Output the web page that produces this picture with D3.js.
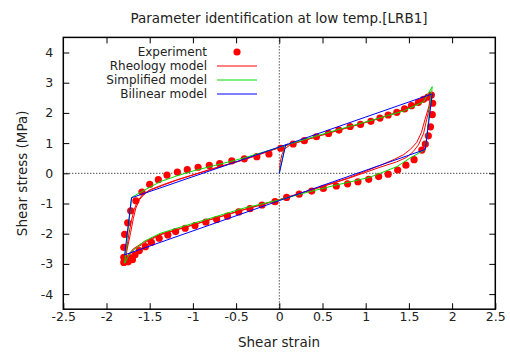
<!DOCTYPE html>
<html>
<head>
<meta charset="utf-8">
<script src="https://cdn.jsdelivr.net/npm/d3@7"></script>
<style>
  body { margin: 0; background: #fff; }
  svg { display: block; font-family: "DejaVu Sans", sans-serif; }
</style>
</head>
<body>
<svg id="chart" width="510" height="353"></svg>
<script>
const xTicks = [-2.5, -2, -1.5, -1, -0.5, 0, 0.5, 1, 1.5, 2, 2.5];
const yTicks = [-4, -3, -2, -1, 0, 1, 2, 3, 4];

// [shear strain, shear stress (MPa)]
const experiment = [
  [0.016,0.83],[0.16,0.97],[0.29,1.08],[0.43,1.21],[0.57,1.32],[0.69,1.43],[0.82,1.55],[0.94,1.62],
  [1.06,1.72],[1.165,1.83],[1.26,1.93],[1.36,2.02],[1.45,2.13],[1.53,2.24],[1.61,2.35],[1.67,2.45],
  [1.72,2.52],[1.76,2.59],
  [1.775,2.32],[1.77,1.94],[1.75,1.54],[1.725,1.24],[1.69,0.97],[1.65,0.77],[1.56,0.45],[1.465,0.27],
  [1.37,0.11],[1.26,-0.03],[1.15,-0.11],[1.035,-0.20],[0.91,-0.28],[0.79,-0.35],[0.66,-0.42],[0.51,-0.50],
  [0.375,-0.59],[0.23,-0.69],[0.085,-0.80],[-0.05,-0.94],[-0.20,-1.05],[-0.34,-1.17],[-0.47,-1.28],
  [-0.60,-1.42],[-0.725,-1.53],[-0.85,-1.62],[-0.976,-1.73],[-1.09,-1.82],[-1.20,-1.93],[-1.29,-2.04],
  [-1.39,-2.15],[-1.48,-2.29],[-1.55,-2.43],[-1.62,-2.56],[-1.67,-2.70],[-1.72,-2.80],[-1.77,-2.88],
  [-1.75,-2.93],[-1.70,-2.86],[-1.80,-2.95],
  [-1.80,-2.78],[-1.80,-2.45],[-1.79,-2.02],[-1.755,-1.64],[-1.72,-1.24],[-1.66,-0.91],[-1.59,-0.62],
  [-1.50,-0.37],[-1.40,-0.21],[-1.30,-0.06],[-1.18,0.04],[-1.065,0.12],[-0.94,0.20],[-0.81,0.26],
  [-0.69,0.32],[-0.55,0.41],[-0.405,0.48],[-0.26,0.55],[-0.12,0.64]
];

const rheology = [
  [0,0],[0.01,0.35],[0.03,0.62],[0.06,0.80],[0.12,0.93],[0.25,1.06],[0.5,1.27],[0.8,1.52],[1.1,1.77],
  [1.35,2.0],[1.55,2.25],[1.68,2.45],[1.755,2.6],
  [1.74,2.2],[1.705,1.77],[1.67,1.32],[1.61,0.94],[1.55,0.72],[1.475,0.53],[1.36,0.38],[1.165,0.2],
  [0.8,-0.17],[0.4,-0.53],[0,-0.88],[-0.4,-1.2],[-0.8,-1.54],[-1.1,-1.8],[-1.38,-2.04],[-1.57,-2.32],
  [-1.69,-2.54],[-1.77,-2.81],[-1.79,-2.93],
  [-1.77,-2.55],[-1.74,-2.0],[-1.71,-1.55],[-1.68,-1.2],[-1.64,-0.92],[-1.58,-0.7],[-1.50,-0.55],
  [-1.35,-0.38],[-1.19,-0.22],[-0.8,0.13],[-0.42,0.44],[0,0.85],[0.5,1.27],[0.8,1.52],[1.1,1.77],
  [1.35,2.0],[1.55,2.25],[1.68,2.45],[1.755,2.6],
  [1.73,2.2],[1.685,1.77],[1.645,1.35],[1.59,1.02],[1.52,0.8],[1.44,0.62],[1.33,0.46],[1.165,0.26],
  [0.8,-0.15],[0.4,-0.52],[0,-0.87],[-0.4,-1.19],[-0.8,-1.53],[-1.1,-1.79],[-1.38,-2.02],[-1.57,-2.28],
  [-1.69,-2.5],[-1.77,-2.78],[-1.79,-2.93],
  [-1.76,-2.5],[-1.72,-1.95],[-1.69,-1.5],[-1.66,-1.15],[-1.62,-0.88],[-1.56,-0.68],[-1.48,-0.54],
  [-1.35,-0.4],[-1.19,-0.23],[-0.8,0.12],[-0.42,0.44],[0,0.85]
];

const simplified = [
  [0,0],[0.07,0.93],[0.66,1.43],[1.05,1.74],[1.435,2.06],[1.67,2.37],[1.77,2.87],
  [1.69,0.79],[1.51,0.50],[1.36,0.22],[1.05,-0.13],[0.66,-0.39],[0.28,-0.66],[0,-0.88],
  [-0.42,-1.16],[-0.80,-1.49],[-1.19,-1.82],[-1.38,-1.99],[-1.57,-2.26],[-1.73,-2.65],[-1.79,-2.98],
  [-1.71,-0.80],[-1.555,-0.55],[-1.38,-0.28],[-1.19,-0.09],[-0.995,0.08],[-0.80,0.22],[-0.42,0.50],
  [0,0.86],[0.07,0.93]
];

const bilinear = [
  [0,0],[0.074,0.94],[1.77,2.63],[1.69,0.79],[-1.79,-2.70],[-1.71,-0.81],[0.1,0.97]
];

const legendItems = [
  { label: 'Experiment', type: 'point', color: '#ff0000' },
  { label: 'Rheology model', type: 'line', color: '#ff0000', data: rheology },
  { label: 'Simplified model', type: 'line', color: '#00e000', data: simplified },
  { label: 'Bilinear model', type: 'line', color: '#0000ff', data: bilinear }
];

const svg = d3.select('#chart');
const x = d3.scaleLinear().domain([-2.5, 2.5]).range([63.3, 495.3]);
const y = d3.scaleLinear().domain([-4.5, 4.5]).range([309.2, 37.4]);
const fmt = d => String(d);

// zero lines
svg.append('line').attr('x1', x(0)).attr('x2', x(0)).attr('y1', y(4.5)).attr('y2', y(-4.5))
  .attr('stroke', '#000').attr('stroke-width', 1).attr('stroke-dasharray', '1,2');
svg.append('line').attr('x1', x(-2.5)).attr('x2', x(2.5)).attr('y1', y(0)).attr('y2', y(0))
  .attr('stroke', '#000').attr('stroke-width', 1).attr('stroke-dasharray', '1,2');

// axes, ticks pointing inwards on every side
const axisStyle = g => {
  g.select('.domain').remove();
  g.selectAll('.tick line').attr('stroke', '#000').attr('stroke-width', 1);
  g.selectAll('.tick text').attr('fill', '#222').attr('font-size', 12.5).attr('font-family', '"DejaVu Sans", sans-serif');
};
svg.append('g').attr('transform', `translate(0,${y(-4.5)})`)
  .call(d3.axisBottom(x).tickValues(xTicks).tickFormat(fmt).tickSize(-6).tickPadding(3)).call(axisStyle);
svg.append('g').attr('transform', `translate(0,${y(4.5)})`)
  .call(d3.axisTop(x).tickValues(xTicks.slice(1, -1)).tickFormat('').tickSize(-6)).call(axisStyle);
svg.append('g').attr('transform', `translate(${x(-2.5)},0)`)
  .call(d3.axisLeft(y).tickValues(yTicks).tickFormat(fmt).tickSize(-6).tickPadding(10)).call(axisStyle);
svg.append('g').attr('transform', `translate(${x(2.5)},0)`)
  .call(d3.axisRight(y).tickValues(yTicks).tickFormat('').tickSize(-6)).call(axisStyle);

svg.append('rect').attr('x', x(-2.5)).attr('y', y(4.5))
  .attr('width', x(2.5) - x(-2.5)).attr('height', y(-4.5) - y(4.5))
  .attr('fill', 'none').attr('stroke', '#000').attr('stroke-width', 1.5);

// model curves
const line = d3.line().x(d => x(d[0])).y(d => y(d[1]));
const plot = svg.append('g');

plot.selectAll('circle')
  .data(experiment)
  .join('circle')
  .attr('cx', d => x(d[0]))
  .attr('cy', d => y(d[1]))
  .attr('r', 3.6)
  .attr('fill', '#ff0000');

legendItems.filter(d => d.type === 'line').forEach(s => {
  plot.append('path').datum(s.data)
    .attr('d', line)
    .attr('fill', 'none')
    .attr('stroke', s.color)
    .attr('stroke-width', 1)
    .attr('stroke-linejoin', 'round');
});

// legend
const lg = svg.append('g').attr('font-size', 12).attr('fill', '#222');
legendItems.forEach((d, i) => {
  const ly = 52 + i * 14;
  lg.append('text').attr('x', 207).attr('y', ly).attr('dy', '0.35em')
    .attr('text-anchor', 'end').text(d.label);
  if (d.type === 'point') {
    lg.append('circle').attr('cx', 237).attr('cy', ly).attr('r', 3.6).attr('fill', d.color);
  } else {
    lg.append('line').attr('x1', 217).attr('x2', 257).attr('y1', ly).attr('y2', ly)
      .attr('stroke', d.color).attr('stroke-width', 1);
  }
});

// titles
svg.append('text').attr('x', 279).attr('y', 23).attr('text-anchor', 'middle')
  .attr('font-size', 13.5).attr('fill', '#222').text('Parameter identification at low temp.[LRB1]');
svg.append('text').attr('x', 279).attr('y', 347).attr('text-anchor', 'middle')
  .attr('font-size', 13.5).attr('fill', '#222').text('Shear strain');
svg.append('text').attr('transform', `translate(27,${y(0)}) rotate(-90)`).attr('text-anchor', 'middle')
  .attr('font-size', 13.5).attr('fill', '#222').text('Shear stress (MPa)');
</script>
</body>
</html>
